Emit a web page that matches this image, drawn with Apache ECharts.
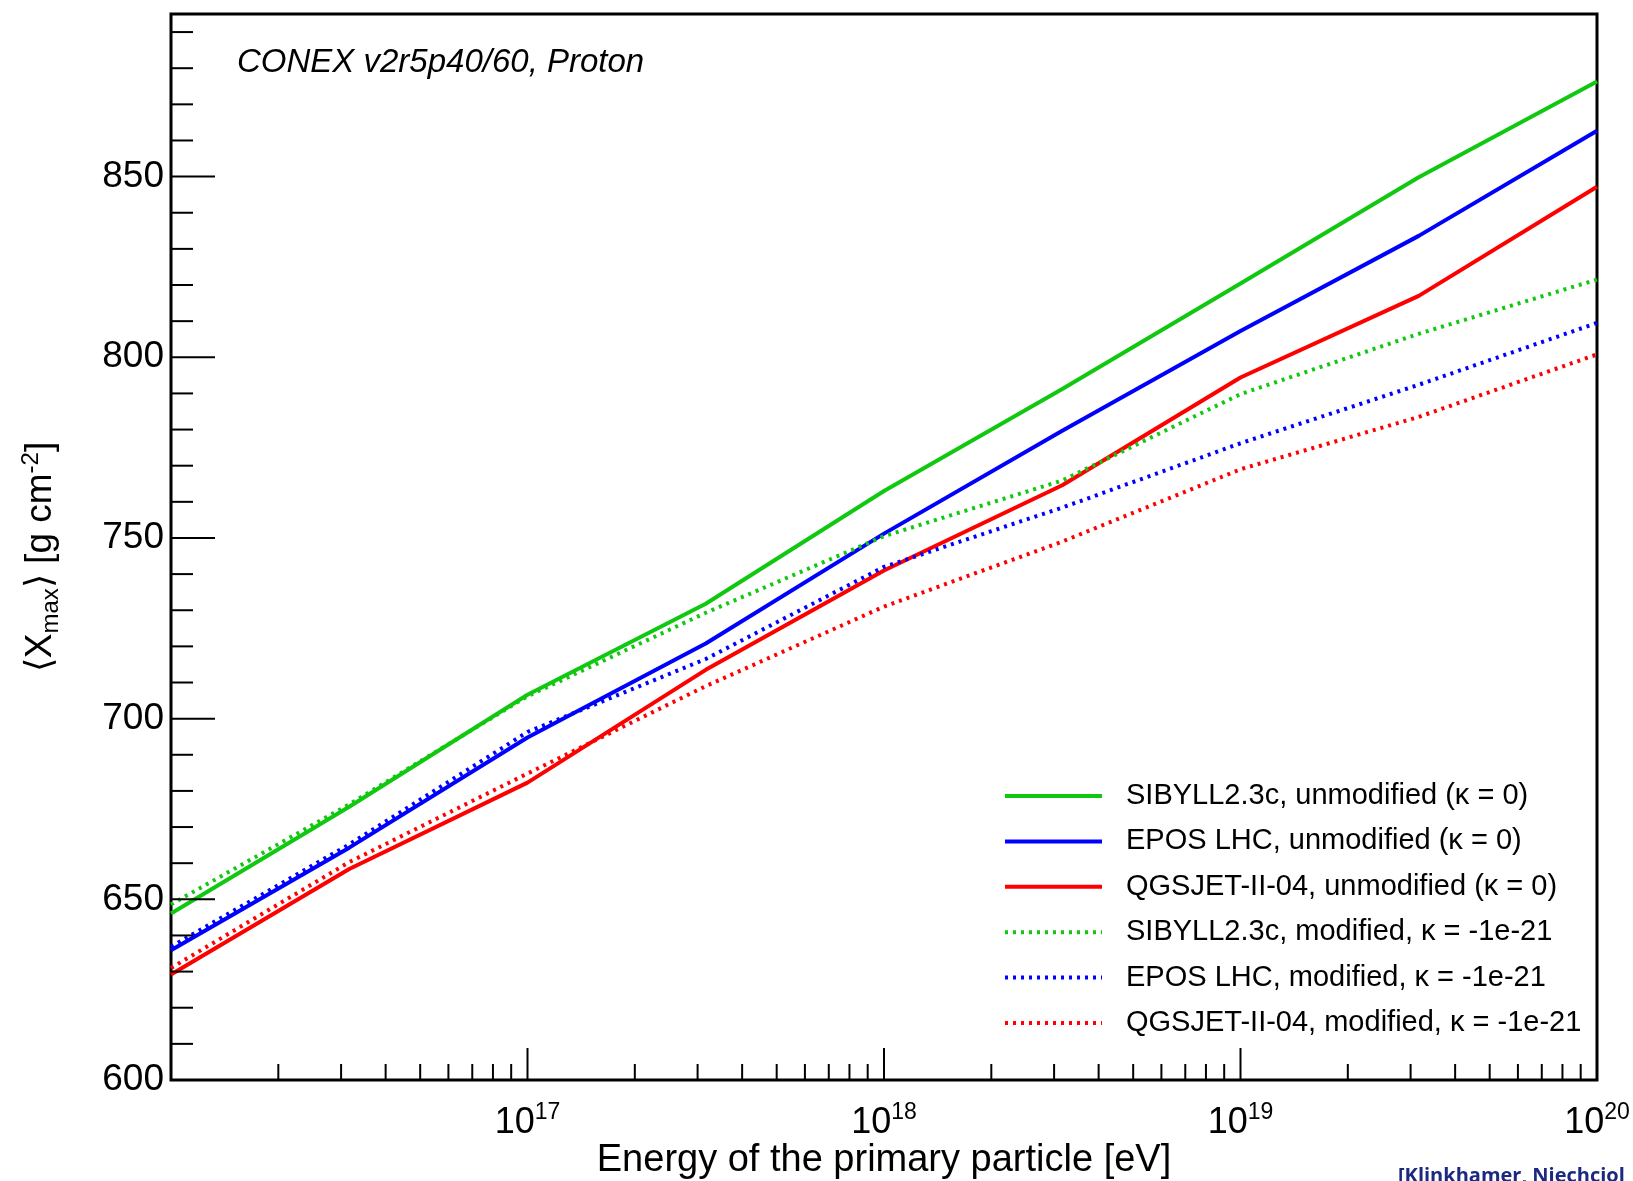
<!DOCTYPE html>
<html>
<head>
<meta charset="utf-8">
<script src="https://cdn.jsdelivr.net/npm/echarts@6/dist/echarts.min.js"></script>
<style>
  html, body { margin: 0; padding: 0; background: #fff; }
  #chart { width: 1633px; height: 1181px; }
</style>
</head>
<body>
<div id="chart"></div>
<script>
// Primary energies [eV], half-decade steps
const energies = [1e16, 3.1623e16, 1e17, 3.1623e17, 1e18, 3.1623e18, 1e19, 3.1623e19, 1e20];

// <Xmax> [g cm^-2], unmodified (kappa = 0)
const sibyllUnmod = [646.1, 675.6, 706.6, 731.8, 763.0, 791.2, 820.4, 849.8, 876.3];
const eposUnmod   = [635.9, 664.3, 694.8, 720.8, 751.2, 779.7, 807.3, 833.6, 862.7];
const qgsjetUnmod = [629.2, 658.4, 682.3, 713.5, 741.0, 764.6, 794.4, 817.0, 847.2];

// <Xmax> [g cm^-2], modified (kappa = -1e-21)
const sibyllMod = [648.6, 676.3, 706.2, 729.3, 750.5, 765.9, 789.8, 806.5, 821.5];
const eposMod   = [636.9, 665.2, 696.3, 716.5, 742.0, 758.4, 776.2, 792.4, 809.5];
const qgsjetMod = [631.0, 660.3, 684.8, 709.0, 731.0, 749.0, 769.0, 783.5, 800.8];

const seriesNames = [
  'SIBYLL2.3c, unmodified (κ = 0)',
  'EPOS LHC, unmodified (κ = 0)',
  'QGSJET-II-04, unmodified (κ = 0)',
  'SIBYLL2.3c, modified, κ = -1e-21',
  'EPOS LHC, modified, κ = -1e-21',
  'QGSJET-II-04, modified, κ = -1e-21'
];

// Axis ticks
const yMajorTicks = [650, 700, 750, 800, 850];
const yMinorTicks = [610, 620, 630, 640, 660, 670, 680, 690, 710, 720, 730, 740,
                     760, 770, 780, 790, 810, 820, 830, 840, 860, 870, 880, 890];
const xMajorTicks = [1e17, 1e18, 1e19];
const xDecades = [1e16, 1e17, 1e18, 1e19];
const xMinorFactors = [2, 3, 4, 5, 6, 7, 8, 9];

const FONT = '"Liberation Sans", Arial, Helvetica, sans-serif';
const GREEN = '#11c811';
const BLUE = '#0000ff';
const RED = '#ff0000';
const DOTS = [3, 5];

const lineDefs = [
  { name: seriesNames[0], values: sibyllUnmod, color: GREEN, dotted: false },
  { name: seriesNames[1], values: eposUnmod,   color: BLUE,  dotted: false },
  { name: seriesNames[2], values: qgsjetUnmod, color: RED,   dotted: false },
  { name: seriesNames[3], values: sibyllMod,   color: GREEN, dotted: true },
  { name: seriesNames[4], values: eposMod,     color: BLUE,  dotted: true },
  { name: seriesNames[5], values: qgsjetMod,   color: RED,   dotted: true }
];

// Tick marks: [x, y, kind]; kind 0 = x major, 1 = x minor, 2 = y major, 3 = y minor
const tickData = [];
xMajorTicks.forEach(v => tickData.push([v, 600, 0]));
xDecades.forEach(d => xMinorFactors.forEach(f => tickData.push([d * f, 600, 1])));
yMajorTicks.forEach(v => tickData.push([1e16, v, 2]));
yMinorTicks.forEach(v => tickData.push([1e16, v, 3]));
const tickLength = [32, 16, 44, 22];

const chart = echarts.init(document.getElementById('chart'), null, { renderer: 'canvas' });

const option = {
  backgroundColor: '#fff',
  animation: false,
  title: {
    text: 'CONEX v2r5p40/60, Proton',
    left: 237,
    top: 46,
    padding: 0,
    textStyle: { fontFamily: FONT, fontStyle: 'italic', fontWeight: 'normal', fontSize: 33, color: '#000' }
  },
  grid: {
    left: 171, right: 36, top: 14, bottom: 101,
    outerBoundsMode: 'none',
    containLabel: false,
    show: true, borderColor: '#000', borderWidth: 3, backgroundColor: 'transparent'
  },
  legend: {
    orient: 'vertical',
    left: 998,
    top: 776,
    itemWidth: 97,
    itemHeight: 14,
    itemGap: 15.4,
    selectedMode: false,
    data: seriesNames,
    itemStyle: { opacity: 0 },
    lineStyle: { width: 4 },
    textStyle: { fontFamily: FONT, fontSize: 29, color: '#000', lineHeight: 30, padding: [0, 0, 0, 19] }
  },
  xAxis: {
    type: 'log',
    logBase: 10,
    min: 1e16,
    max: 1e20,
    axisLine: { show: false },
    axisTick: { show: false },
    splitLine: { show: false },
    axisLabel: {
      showMinLabel: false,
      margin: 21,
      formatter: v => '{b|10}{s|' + Math.round(Math.log10(v)) + '}',
      rich: {
        b: { fontFamily: FONT, fontSize: 36, color: '#000', lineHeight: 44 },
        s: { fontFamily: FONT, fontSize: 23, color: '#000', lineHeight: 16, verticalAlign: 'top' }
      }
    },
    name: 'Energy of the primary particle [eV]',
    nameLocation: 'middle',
    nameGap: 61,
    nameMoveOverlap: false,
    nameTextStyle: { fontFamily: FONT, fontSize: 38, color: '#000', lineHeight: 40 }
  },
  yAxis: {
    type: 'value',
    min: 600,
    max: 895,
    interval: 50,
    axisLine: { show: false },
    axisTick: { show: false },
    splitLine: { show: false },
    axisLabel: {
      margin: 7,
      showMaxLabel: false,
      fontFamily: FONT, fontSize: 37, color: '#000',
      formatter: v => (v % 50 === 0 ? String(v) : '')
    },
    name: '⟨X{sub|max}⟩ [g cm{sup|-2}]',
    nameLocation: 'middle',
    nameRotate: 90,
    nameGap: 108,
    nameMoveOverlap: false,
    nameTextStyle: {
      fontFamily: FONT, fontSize: 37, color: '#000', lineHeight: 44,
      padding: [0, 20, 0, 0],
      rich: {
        sub: { fontFamily: FONT, fontSize: 24, color: '#000', lineHeight: 20, verticalAlign: 'bottom' },
        sup: { fontFamily: FONT, fontSize: 24, color: '#000', lineHeight: 18, verticalAlign: 'top' }
      }
    }
  },
  graphic: [{
    type: 'text',
    left: 1398,
    top: 1166,
    style: { text: '[Klinkhamer, Niechciol', fill: '#1b2a80', fontFamily: '"Open Sans", "Noto Sans", sans-serif', fontWeight: 'bold', fontSize: 20 }
  }],
  series: lineDefs.map(d => ({
    type: 'line',
    name: d.name,
    data: energies.map((e, i) => [e, d.values[i]]),
    symbol: 'none',
    clip: true,
    z: 3,
    itemStyle: { color: d.color },
    lineStyle: { color: d.color, width: 4, type: d.dotted ? DOTS : 'solid', cap: 'butt' }
  })).concat([{
    type: 'custom',
    name: 'ticks',
    silent: true,
    clip: false,
    z: 5,
    data: tickData,
    renderItem: (params, api) => {
      const kind = api.value(2);
      const p = api.coord([api.value(0), api.value(1)]);
      const len = tickLength[kind];
      const shape = kind < 2
        ? { x1: p[0], y1: p[1], x2: p[0], y2: p[1] - len }
        : { x1: p[0], y1: p[1], x2: p[0] + len, y2: p[1] };
      return { type: 'line', shape: shape, style: { stroke: '#000', lineWidth: 2 } };
    }
  }])
};

chart.setOption(option);
</script>
</body>
</html>
